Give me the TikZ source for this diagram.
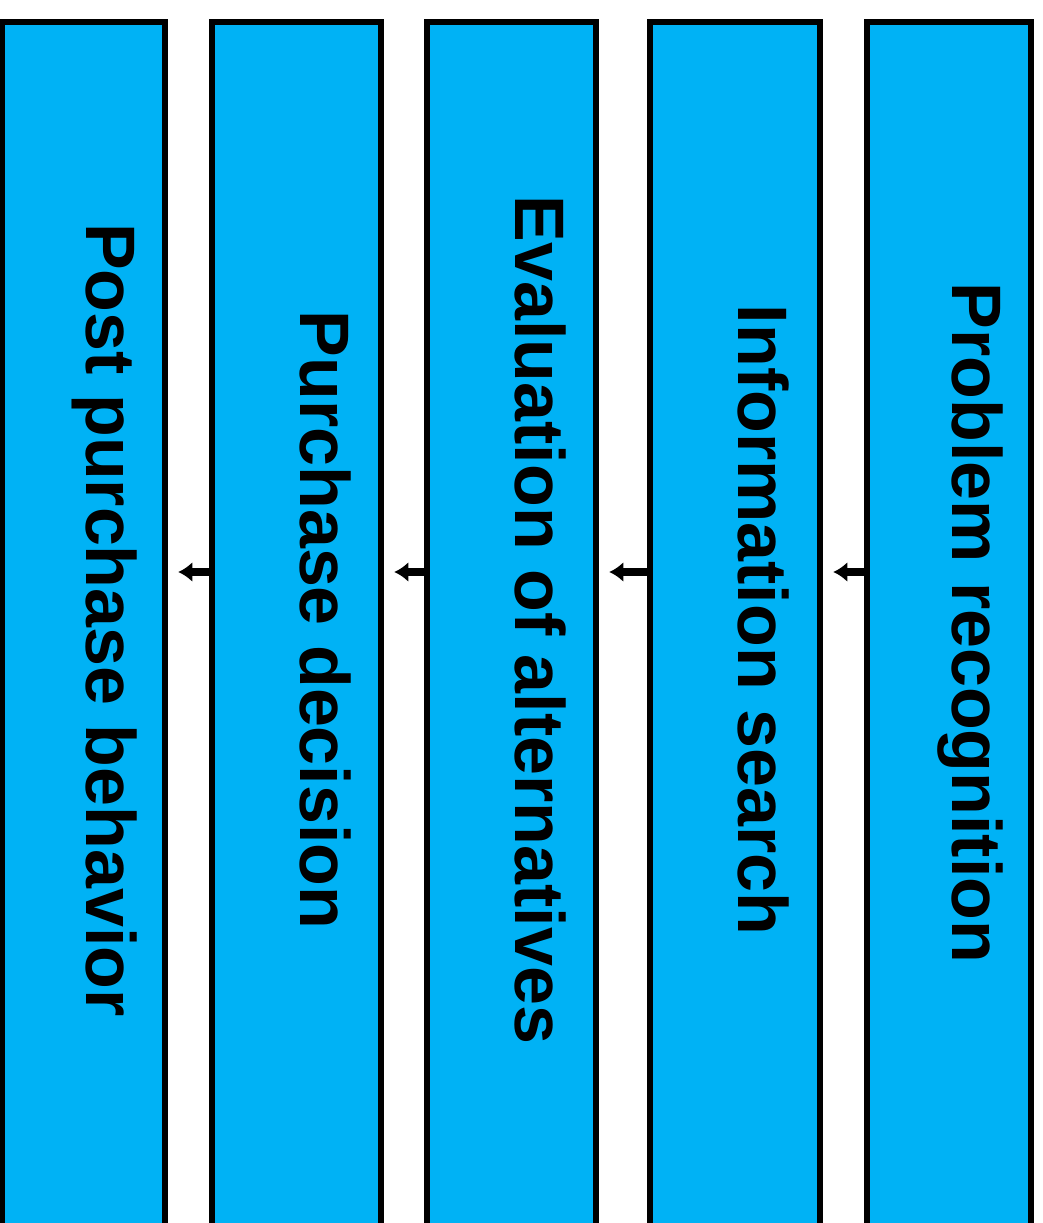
\documentclass[tikz,border=0pt]{standalone}
\usepackage{fontspec}
\setmainfont{Liberation Sans}
\usetikzlibrary{arrows.meta}
\definecolor{boxblue}{RGB}{0,178,245}
\tikzset{
  stagebox/.style={draw=black, fill=boxblue, line width=6.5pt, inner sep=0pt,
    minimum width=#1, minimum height=1228pt},
  stagetext/.style={rotate=-90, anchor=base, inner sep=0pt,
    font=\fontsize{70}{84}\selectfont\bfseries},
  flowarrow/.style={draw=black, line width=8pt, -{Latex[length=14pt,width=20pt]}, shorten >=10pt}
}
\begin{document}
\begin{tikzpicture}[x=1pt,y=1pt]
\clip (0,0) rectangle (1043,-1223);
\fill[white] (0,0) rectangle (1043,-1223);
% boxes (line centres: left..right)
\node[stagebox=163pt] (b1) at (83.5,-636) {};
\node[stagebox=169pt] (b2) at (296.5,-636) {};
\node[stagebox=169pt] (b3) at (511.5,-636) {};
\node[stagebox=170pt] (b4) at (735,-636) {};
\node[stagebox=164pt] (b5) at (949,-636) {};
% texts
\node[stagetext] (t1) at (86,-620) {Post purchase behavior};
\node[stagetext] (t2) at (300,-620) {Purchase decision};
\node[stagetext] (t3) at (515,-620) {Evaluation of alternatives};
\node[stagetext] (t4) at (738,-620) {Information search};
\node[stagetext] (t5) at (952,-623) {Problem recognition};
% arrows
\coordinate (ay) at (0,-572);
\draw[flowarrow] (b2.west |- ay) -- (b1.east |- ay);
\draw[flowarrow] (b3.west |- ay) -- (b2.east |- ay);
\draw[flowarrow] (b4.west |- ay) -- (b3.east |- ay);
\draw[flowarrow] (b5.west |- ay) -- (b4.east |- ay);
\end{tikzpicture}
\end{document}
